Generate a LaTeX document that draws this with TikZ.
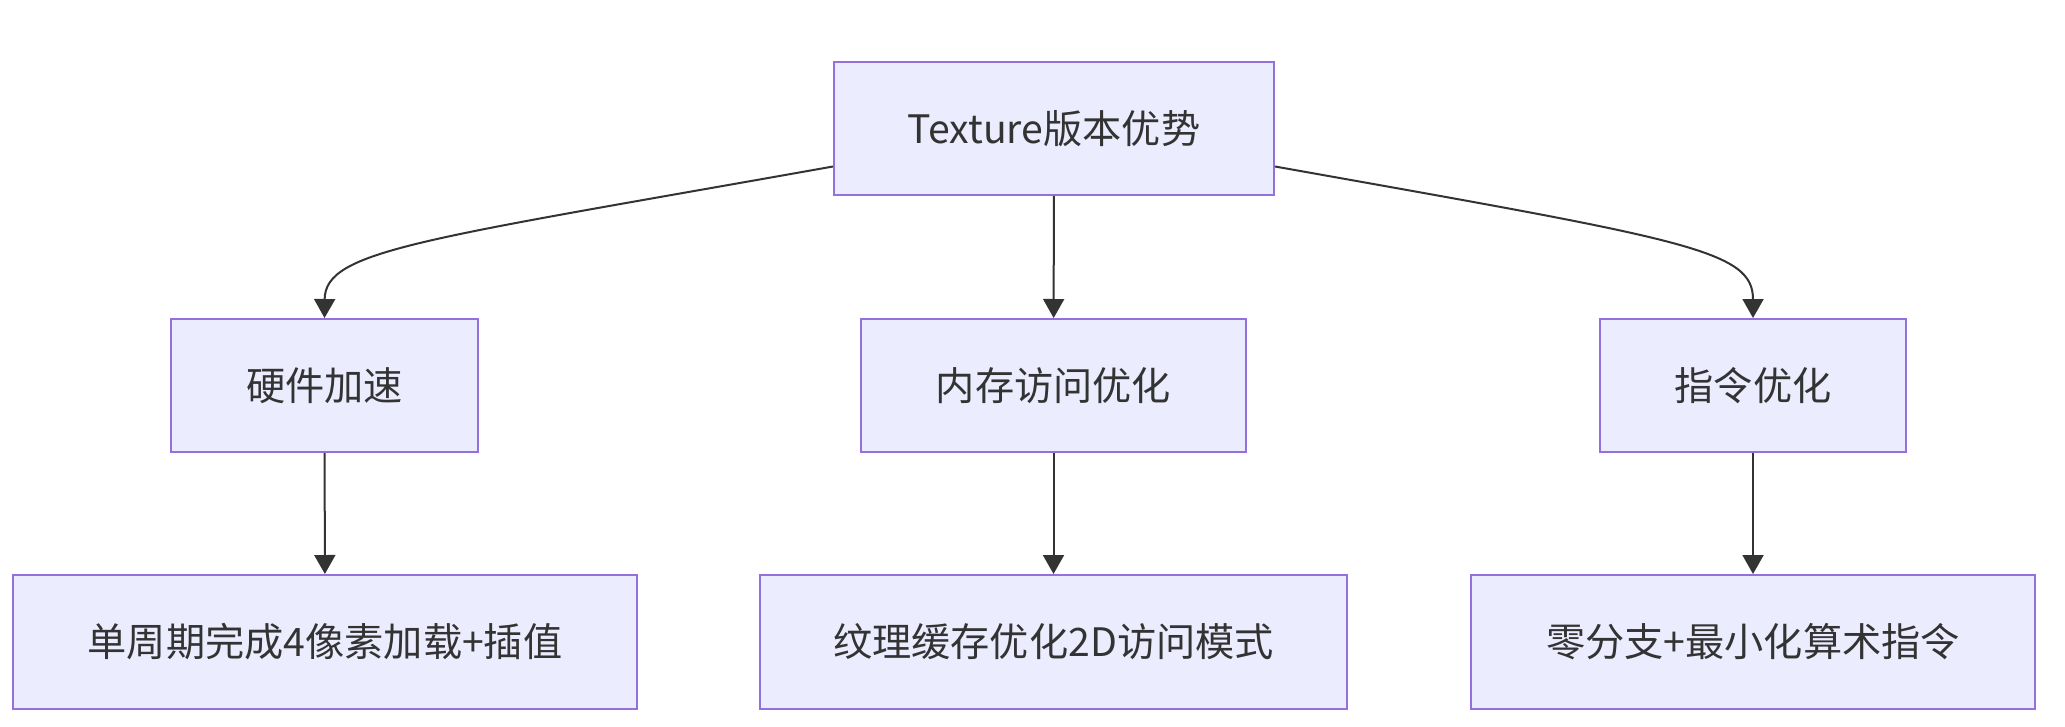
\documentclass[tikz,border=0pt]{standalone}
\usepackage{fontspec}
\setmainfont{Noto Sans CJK SC}
\usetikzlibrary{arrows.meta}
\definecolor{boxfill}{HTML}{ECECFF}
\definecolor{boxline}{HTML}{9370DB}
\definecolor{edgec}{HTML}{333333}
\tikzset{
  box/.style={draw=boxline, fill=boxfill, line width=1pt, inner sep=0pt,
    text=edgec, font=\fontsize{19.6}{23}\selectfont, minimum height=66.5pt},
  edge/.style={draw=edgec, line width=1pt,
    -{Triangle[width=10.5pt,length=9.5pt]}}
}
\begin{document}
\begin{tikzpicture}[x=0.5pt,y=-0.5pt]
\useasboundingbox (0,0) rectangle (2065,727);
\node[box, minimum width=220pt] (top) at (1054,128.5) {Texture版本优势};
\node[box, minimum width=153.5pt] (hw) at (324.5,385.5) {硬件加速};
\node[box, minimum width=192.5pt] (mem) at (1053.5,385.5) {内存访问优化};
\node[box, minimum width=153pt] (ins) at (1753,385.5) {指令优化};
\node[box, minimum width=312pt, minimum height=67pt] (hwd) at (325,642) {单周期完成4像素加载+插值};
\node[box, minimum width=293.5pt, minimum height=67pt] (memd) at (1053.5,642) {纹理缓存优化2D访问模式};
\node[box, minimum width=282pt, minimum height=67pt] (insd) at (1753,642) {零分支+最小化算术指令};
\draw[edge] ([yshift=-19pt]top.west) .. controls (420,240) and (325,250) .. (hw.north);
\draw[edge] (top) -- (mem);
\draw[edge] ([yshift=-19pt]top.east) .. controls (1688,240) and (1753,250) .. (ins.north);
\draw[edge] (hw) -- (hwd);
\draw[edge] (mem) -- (memd);
\draw[edge] (ins) -- (insd);
\end{tikzpicture}
\end{document}
